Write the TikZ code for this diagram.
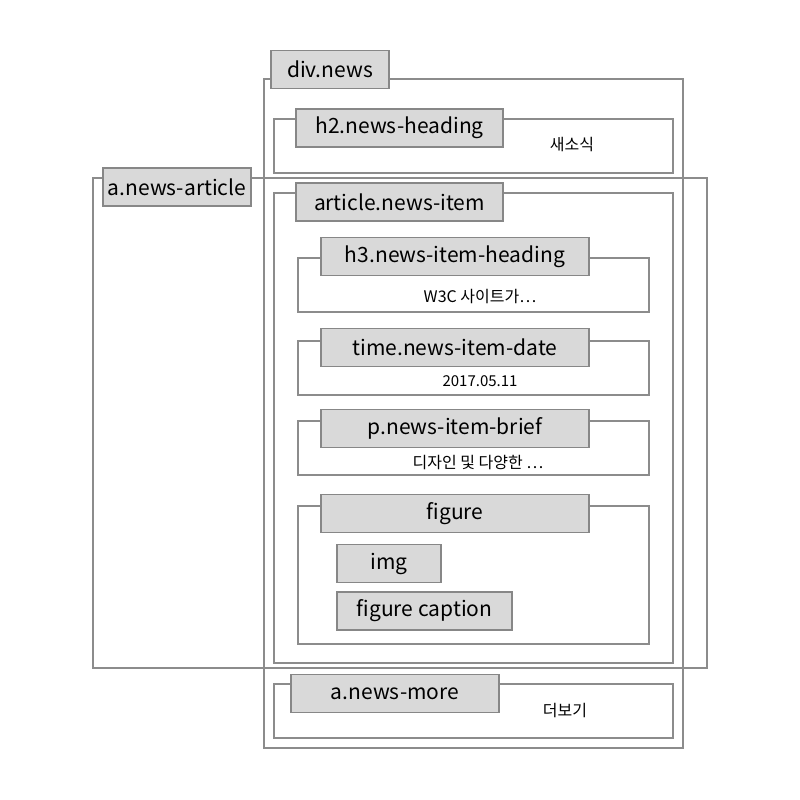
\documentclass[tikz,border=0pt]{standalone}
\usepackage{fontspec}
\setmainfont{Noto Sans CJK KR}

\tikzset{
  area/.style={draw=boxline, line width=1.6pt},
  tag/.style={draw=tagline, fill=tagfill, line width=1.6pt, minimum height=38pt,
    inner sep=0pt, font=\fontsize{21}{23}\selectfont},
  note/.style={font=\fontsize{16}{18}\selectfont}
}
\definecolor{boxline}{HTML}{8C8C8C}
\definecolor{tagline}{HTML}{878787}
\definecolor{tagfill}{HTML}{D9D9D9}

\begin{document}
\begin{tikzpicture}[x=1pt, y=-1pt]
    \useasboundingbox (0,0) rectangle (800,800);
    % outlines
    \draw[area] (264,79) rectangle (683,748);
    \draw[area] (274,119) rectangle (673,173);
    \draw[area] (93,178) rectangle (707,668);
    \draw[area] (274,193) rectangle (673,663);
    \draw[area] (298,258) rectangle (649,312);
    \draw[area] (298,341) rectangle (649,395);
    \draw[area] (298,421) rectangle (649,475);
    \draw[area] (298,506) rectangle (649,644);
    \draw[area] (274,684) rectangle (673,738);
    % tags
    \node[tag, minimum width=118pt] (divnews) at (330,69.5) {div.news};
    \node[tag, minimum width=207pt] (heading) at (399.5,128) {h2.news-heading};
    \node[tag, minimum width=148pt] (article) at (177,187) {a.news-article};
    \node[tag, minimum width=207pt] (item) at (399.5,202) {article.news-item};
    \node[tag, minimum width=268pt] (itemheading) at (455,256.5) {h3.news-item-heading};
    \node[tag, minimum width=268pt] (itemdate) at (455,347.5) {time.news-item-date};
    \node[tag, minimum width=268pt] (itembrief) at (455,428.5) {p.news-item-brief};
    \node[tag, minimum width=268pt] (figure) at (455,513.5) {figure};
    \node[tag, minimum width=104pt] (img) at (389,563.5) {img};
    \node[tag, minimum width=175pt] (caption) at (424.5,611) {figure caption};
    \node[tag, minimum width=208pt] (more) at (395,693.5) {a.news-more};
    % contents
    \node[note] (headingtext) at (572,145) {새소식};
    \node[note] (itemheadingtext) at (480,297) {W3C 사이트가…};
    \node[note, font=\fontsize{15}{17}\selectfont] (itemdatetext) at (480,381) {2017.05.11};
    \node[note] (itembrieftext) at (478,463) {디자인 및 다양한 …};
    \node[note] (moretext) at (565,711) {더보기};
\end{tikzpicture}
\end{document}
